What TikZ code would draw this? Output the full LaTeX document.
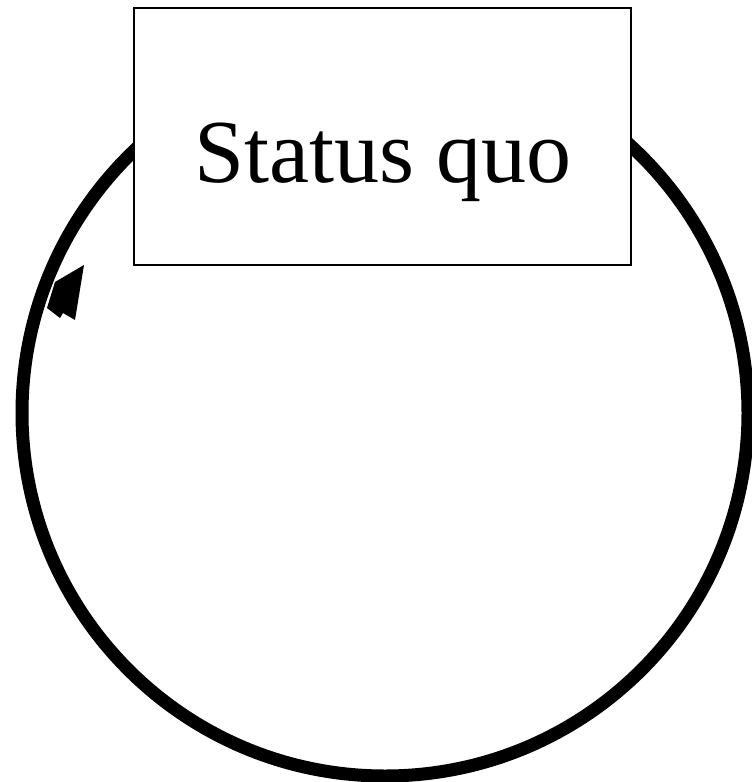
\documentclass[tikz,border=0pt]{standalone}
\usepackage{fontspec}
\setmainfont{Liberation Serif}
\begin{document}
\begin{tikzpicture}[x=1pt,y=-1pt,
  loop/.style={line width=13pt,draw=black},
  sqbox/.style={draw=black,line width=2.2pt,fill=white,minimum width=497pt,minimum height=257pt,inner sep=0pt},
  sqtext/.style={font=\fontsize{90}{100}\selectfont,inner sep=0pt,anchor=base}]
\useasboundingbox (0,0) rectangle (752,782);
\clip (0,0) rectangle (752,782);
\draw[loop] (385,413) circle[radius=363pt];
\coordinate (tip) at (84,265);
\fill[black] (tip) -- (55,282) -- (47,308) -- (60,318) -- (63,313) -- (75,320) -- cycle;
\node[sqbox] (status) at (382.5,136.5) {};
\node[sqtext] (label) at (383,182) {Status quo};
\end{tikzpicture}
\end{document}
